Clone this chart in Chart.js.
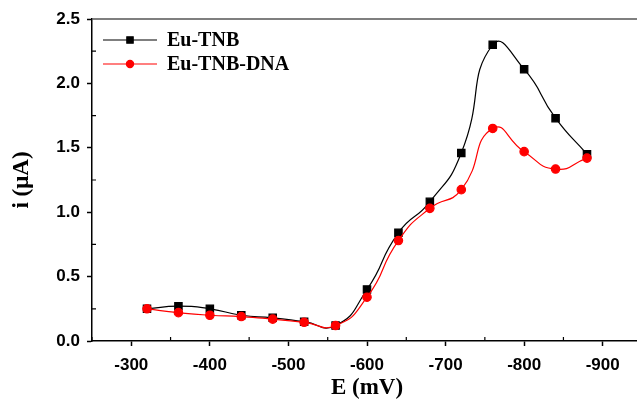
<!DOCTYPE html>
<html>
<head>
<meta charset="utf-8">
<script src="https://cdn.jsdelivr.net/npm/chart.js@4.4.0/dist/chart.umd.min.js"></script>
<style>
    html, body { margin: 0; padding: 0; background: #fff; overflow: hidden; }
    #wrap { width: 650px; height: 400px; }
</style>
</head>
<body>
<div id="wrap"><canvas id="grafico" width="650" height="400"></canvas></div>
<script>
// Potencial aplicado (mV) y corriente medida (µA) para cada electrodo
const potenciales = [-320, -360, -400, -440, -480, -520, -560, -600, -640, -680, -720, -760, -800, -840, -880];
const corrienteTNB = [0.25, 0.27, 0.25, 0.20, 0.18, 0.15, 0.12, 0.40, 0.84, 1.08, 1.46, 2.30, 2.11, 1.73, 1.45];
const corrienteDNA = [0.25, 0.22, 0.20, 0.19, 0.17, 0.145, 0.12, 0.34, 0.78, 1.03, 1.175, 1.65, 1.47, 1.335, 1.42];

// Marcas de los ejes
const ticksX = [-300, -400, -500, -600, -700, -800, -900];
const menoresX = [-250, -350, -450, -550, -650, -750, -850];
const ticksY = [0, 0.5, 1.0, 1.5, 2.0, 2.5];
const menoresY = [0.25, 0.75, 1.25, 1.75, 2.25];

const etiquetas = ['Eu-TNB', 'Eu-TNB-DNA'];

const fuenteTicks = { family: 'Liberation Sans', size: 17, weight: 'bold' };
const fuenteTitulo = { family: 'Liberation Serif', size: 23, weight: 'bold', lineHeight: 1 };

// Convierte los arreglos en pares {x, y}
function serie(valores) {
    return potenciales.map((p, i) => ({ x: p, y: valores[i] }));
}

// Ticks menores hacia adentro, borde superior y leyenda dentro del gráfico
const extras = {
    id: 'extras',
    afterDraw(chart) {
        const ctx = chart.ctx;
        const area = chart.chartArea;
        const sx = chart.scales.x;
        const sy = chart.scales.y;
        ctx.save();

        // borde superior
        ctx.strokeStyle = '#555';
        ctx.lineWidth = 1.5;
        ctx.beginPath();
        ctx.moveTo(area.left, area.top);
        ctx.lineTo(area.right + 10, area.top);
        ctx.stroke();

        // ticks menores
        ctx.strokeStyle = '#000';
        ctx.lineWidth = 1.2;
        ctx.beginPath();
        menoresX.forEach(v => {
            const px = sx.getPixelForValue(v);
            ctx.moveTo(px, area.bottom);
            ctx.lineTo(px, area.bottom - 4);
        });
        menoresY.forEach(v => {
            const py = sy.getPixelForValue(v);
            ctx.moveTo(area.left, py);
            ctx.lineTo(area.left + 4, py);
        });
        ctx.stroke();

        // leyenda
        const filas = [40, 64];
        const orden = [1, 0];
        ctx.font = 'bold 20px "Liberation Serif"';
        ctx.textBaseline = 'middle';
        ctx.textAlign = 'left';
        orden.forEach((idx, fila) => {
            const ds = chart.data.datasets[idx];
            const y = filas[fila];
            ctx.strokeStyle = ds.borderColor;
            ctx.lineWidth = 1.2;
            ctx.beginPath();
            ctx.moveTo(area.left + 11, y);
            ctx.lineTo(area.left + 65, y);
            ctx.stroke();
            ctx.fillStyle = ds.pointBackgroundColor;
            ctx.strokeStyle = ds.pointBackgroundColor;
            Chart.helpers.drawPoint(ctx, {
                pointStyle: ds.pointStyle,
                radius: ds.pointStyle === 'rect' ? 4.5 : 3.6,
                borderWidth: 1
            }, area.left + 38, y);
            ctx.fillStyle = '#000';
            ctx.fillText(ds.label, area.left + 75, y + 1);
        });
        ctx.restore();
    }
};

new Chart(document.getElementById('grafico'), {
    type: 'line',
    data: {
        datasets: [{
            label: etiquetas[1],
            data: serie(corrienteDNA),
            borderColor: '#ff0000',
            backgroundColor: '#ff0000',
            pointBackgroundColor: '#ff0000',
            pointBorderColor: '#ff0000',
            pointStyle: 'circle',
            pointRadius: 4.2,
            borderWidth: 1.2,
            tension: 0.55,
            order: 0
        }, {
            label: etiquetas[0],
            data: serie(corrienteTNB),
            borderColor: '#000000',
            backgroundColor: '#000000',
            pointBackgroundColor: '#000000',
            pointBorderColor: '#000000',
            pointStyle: 'rect',
            pointRadius: 5.2,
            borderWidth: 1.2,
            tension: 0.55,
            order: 1
        }]
    },
    options: {
        responsive: false,
        animation: false,
        devicePixelRatio: 1,
        layout: { padding: { top: 19, right: 8, left: 0, bottom: 0 } },
        plugins: {
            legend: { display: false },
            tooltip: { enabled: false }
        },
        scales: {
            x: {
                type: 'linear',
                reverse: true,
                min: -950,
                max: -250,
                afterBuildTicks: s => { s.ticks = ticksX.map(v => ({ value: v })); },
                afterFit: s => { s.height = 59; },
                ticks: { font: fuenteTicks, color: '#000', padding: 9, maxRotation: 0 },
                grid: { drawOnChartArea: false, tickLength: 5, tickColor: '#000', tickWidth: 1.5 },
                border: { color: '#000', width: 1.5 },
                title: { display: true, text: 'E (mV)', font: fuenteTitulo, color: '#000', padding: { top: 0, bottom: 0 } }
            },
            y: {
                min: 0,
                max: 2.5,
                afterBuildTicks: s => { s.ticks = ticksY.map(v => ({ value: v })); },
                afterFit: s => { s.width = 92; },
                ticks: { font: fuenteTicks, color: '#000', padding: 7, callback: v => v.toFixed(1) },
                grid: { drawOnChartArea: false, tickLength: 5, tickColor: '#000', tickWidth: 1.5 },
                border: { color: '#000', width: 1.5 },
                title: { display: true, text: 'i (μA)', font: fuenteTitulo, color: '#000', padding: { top: 11, bottom: 0 } }
            }
        }
    },
    plugins: [extras]
});
</script>
</body>
</html>
